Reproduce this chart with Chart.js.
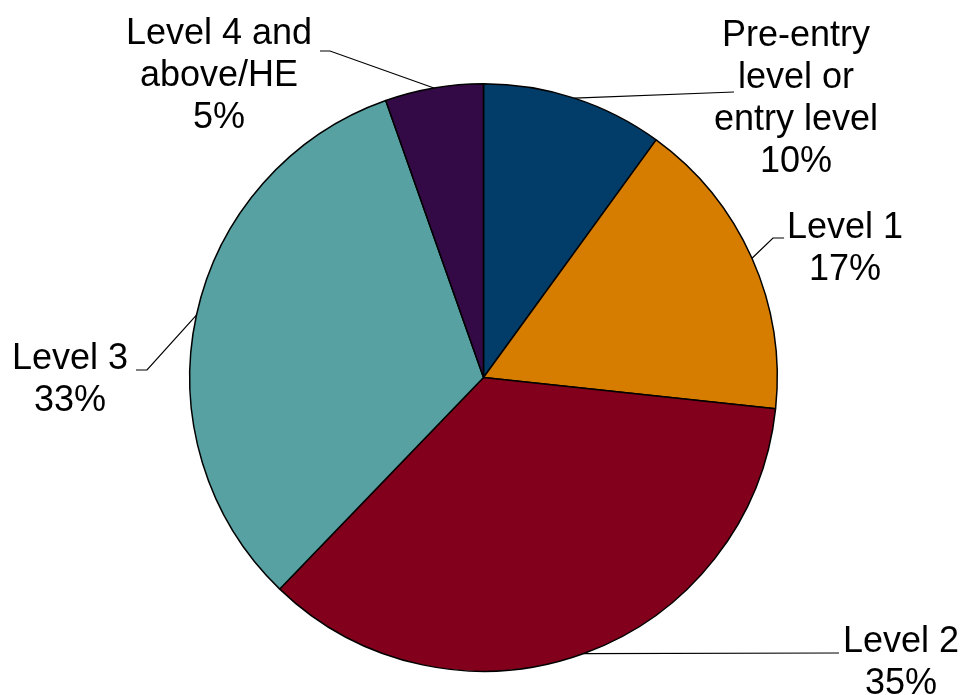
<!DOCTYPE html>
<html>
<head>
<meta charset="utf-8">
<script src="https://cdn.jsdelivr.net/npm/chart.js@4"></script>
<style>
  body { margin: 0; background: #fff; }
  canvas { display: block; }
</style>
</head>
<body>
<canvas id="pie" width="965" height="695"></canvas>
<script>
// data
const categories = [
  "Pre-entry\nlevel or\nentry level",
  "Level 1",
  "Level 2",
  "Level 3",
  "Level 4 and\nabove/HE"
];
const shares = [10.0, 16.7, 35.5, 32.4, 5.4];
const pctLabels = ["10%", "17%", "35%", "33%", "5%"];

const colours = ['#023C69', '#D67D00', '#82001B', '#57A1A3', '#330A45'];

// where each label sits (text centre x, first baseline) + leader bends
const labelPos = [
  { x: 796, y: 46, path: [[734, 92]] },
  { x: 845, y: 238, path: [[773, 238], [784, 238]] },
  { x: 901, y: 652, path: [[839, 653]] },
  { x: 70, y: 369, path: [[147, 370], [136, 370]] },
  { x: 219, y: 44, path: [[330, 51], [320, 51]] }
];

const outsideLabels = {
  id: 'outsideLabels',
  afterDraw(chart) {
    const ctx = chart.ctx;
    const arcs = chart.getDatasetMeta(0).data;
    ctx.save();
    arcs.forEach((arc, i) => {
      const p = arc.getProps(['x', 'y', 'startAngle', 'endAngle', 'outerRadius']);
      const mid = (p.startAngle + p.endAngle) / 2;
      const pos = labelPos[i];
      // leader line
      ctx.strokeStyle = '#000';
      ctx.lineWidth = 1.2;
      ctx.beginPath();
      ctx.moveTo(p.x + Math.cos(mid) * p.outerRadius, p.y + Math.sin(mid) * p.outerRadius);
      pos.path.forEach(pt => ctx.lineTo(pt[0], pt[1]));
      ctx.stroke();
      // text
      ctx.fillStyle = '#000';
      ctx.font = '36px "Liberation Sans", Arial, sans-serif';
      ctx.textAlign = 'center';
      ctx.textBaseline = 'alphabetic';
      const lines = categories[i].split('\n').concat([pctLabels[i]]);
      lines.forEach((t, k) => ctx.fillText(t, pos.x, pos.y + k * 42));
    });
    ctx.restore();
  }
};

const ctx1 = document.getElementById("pie");

new Chart(ctx1, {
  type: "pie",
  data: {
    labels: categories,
    datasets: [
      {
        data: shares,
        backgroundColor: colours,
        borderColor: '#000',
        borderWidth: 1.5
      }
    ]
  },
  options: {
    responsive: false,
    animation: false,
    devicePixelRatio: 1,
    layout: {
      padding: { top: 83, bottom: 23, left: 189, right: 187 }
    },
    plugins: {
      legend: { display: false },
      tooltip: { enabled: false }
    }
  },
  plugins: [outsideLabels]
});
</script>
</body>
</html>
